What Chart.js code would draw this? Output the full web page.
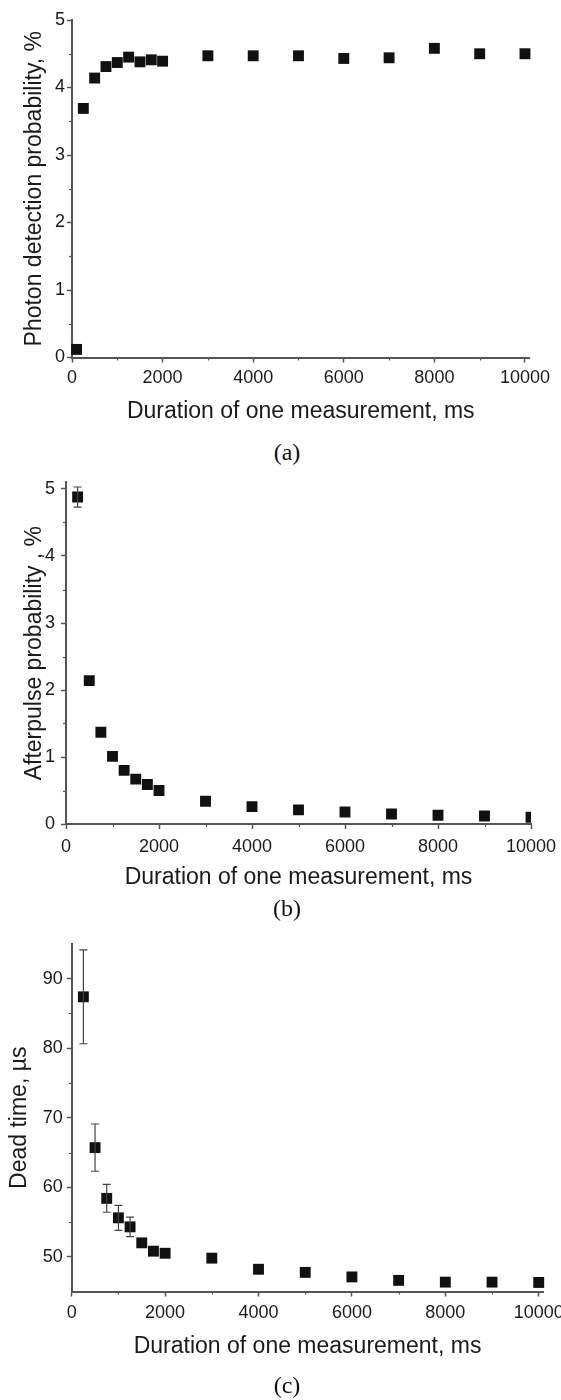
<!DOCTYPE html>
<html><head><meta charset="utf-8">
<script src="https://cdn.jsdelivr.net/npm/chart.js@4.4.1/dist/chart.umd.min.js"></script>
<style>
html,body{margin:0;padding:0;background:#fff;}
body{width:561px;height:1400px;position:relative;overflow:hidden;}
.panel{position:absolute;left:0;width:561px;}
.cap{position:absolute;left:0;width:574px;text-align:center;font-family:"Liberation Serif","Times New Roman",serif;font-size:24px;line-height:24px;color:#111;}
</style></head>
<body>
<div class="panel" style="top:0;height:432px"><canvas id="cA"></canvas></div>
<div class="cap" style="top:440px">(a)</div>
<div class="panel" style="top:460px;height:440px"><canvas id="cB"></canvas></div>
<div class="cap" style="top:896px">(b)</div>
<div class="panel" style="top:930px;height:440px"><canvas id="cC"></canvas></div>
<div class="cap" style="top:1373px">(c)</div>
<script>
// ---- data ----
const durationA = [100, 250, 500, 750, 1000, 1250, 1500, 1750, 2000, 3000, 4000, 5000, 6000, 7000, 8000, 9000, 10000];
const detectionProb = [0.12, 3.69, 4.14, 4.31, 4.37, 4.45, 4.38, 4.41, 4.39, 4.47, 4.47, 4.47, 4.43, 4.44, 4.58, 4.50, 4.50];

const durationBC = [250, 500, 750, 1000, 1250, 1500, 1750, 2000, 3000, 4000, 5000, 6000, 7000, 8000, 9000, 10000];
const afterpulseProb = [4.88, 2.14, 1.37, 1.01, 0.80, 0.67, 0.59, 0.50, 0.34, 0.26, 0.21, 0.18, 0.15, 0.13, 0.12, 0.10];
const afterpulseErr = [0.15, 0, 0, 0, 0, 0, 0, 0, 0, 0, 0, 0, 0, 0, 0, 0];

const deadTime = [87.4, 65.7, 58.4, 55.6, 54.3, 52.0, 50.8, 50.5, 49.8, 48.2, 47.75, 47.1, 46.6, 46.35, 46.35, 46.3];
const deadTimeErr = [6.75, 3.4, 2.0, 1.8, 1.4, 0, 0, 0, 0, 0, 0, 0, 0, 0, 0, 0];

const xMajorTicks = [0, 2000, 4000, 6000, 8000, 10000];
const xMinorTicks = [1000, 3000, 5000, 7000, 9000];
const yTicksAB = [0, 1, 2, 3, 4, 5];
const yMinorAB = [0.5, 1.5, 2.5, 3.5, 4.5];
const yTicksC = [50, 60, 70, 80, 90];
const yMinorC = [55, 65, 75, 85];

const xTitle = 'Duration of one measurement, ms';
const yTitleA = 'Photon detection probability, %';
const yTitleB = 'Afterpulse probability , %';
const yTitleC = 'Dead time, \u00b5s';

// ---- styling ----
Chart.defaults.font.family = '"Liberation Sans", Arial, sans-serif';
const AXIS = '#555';
const TXT = '#1a1a1a';

const errorBarPlugin = {
  id: 'errorBars',
  afterDatasetsDraw(chart) {
    const ds = chart.data.datasets[0];
    if (!ds.errors) return;
    const xs = chart.scales.x, ys = chart.scales.y, ctx = chart.ctx;
    ctx.save();
    ctx.strokeStyle = '#444';
    ctx.lineWidth = 1.2;
    ds.data.forEach((p, i) => {
      const e = ds.errors[i];
      if (!e) return;
      const px = xs.getPixelForValue(p.x);
      const yt = ys.getPixelForValue(p.y + e);
      const yb = ys.getPixelForValue(p.y - e);
      ctx.beginPath();
      ctx.moveTo(px, yt); ctx.lineTo(px, yb);
      ctx.moveTo(px - 4, yt); ctx.lineTo(px + 4, yt);
      ctx.moveTo(px - 4, yb); ctx.lineTo(px + 4, yb);
      ctx.stroke();
    });
    ctx.restore();
  }
};

const minorTickPlugin = {
  id: 'minorTicks',
  afterDraw(chart, args, opts) {
    const xs = chart.scales.x, ys = chart.scales.y, ctx = chart.ctx;
    const ca = chart.chartArea;
    ctx.save();
    ctx.strokeStyle = AXIS;
    ctx.lineWidth = 1.2;
    (opts.x || []).forEach(v => {
      const px = Math.round(xs.getPixelForValue(v)) + 0.5;
      ctx.beginPath(); ctx.moveTo(px, ca.bottom); ctx.lineTo(px, ca.bottom + 3); ctx.stroke();
    });
    (opts.y || []).forEach(v => {
      const py = Math.round(ys.getPixelForValue(v)) + 0.5;
      ctx.beginPath(); ctx.moveTo(ca.left - 3, py); ctx.lineTo(ca.left, py); ctx.stroke();
    });
    ctx.restore();
  }
};

function build(id, c) {
  return new Chart(document.getElementById(id), {
    type: 'scatter',
    data: {
      datasets: [{
        data: c.x.map((v, i) => ({x: v, y: c.y[i]})),
        errors: c.err,
        pointStyle: 'rect',
        pointRadius: 7.7,
        pointHoverRadius: 7.7,
        backgroundColor: '#111',
        borderColor: '#111',
        borderWidth: 0,
        clip: c.clip
      }]
    },
    options: {
      responsive: true,
      maintainAspectRatio: false,
      animation: false,
      events: [],
      layout: {padding: c.padding},
      plugins: {
        legend: {display: false},
        tooltip: {enabled: false},
        minorTicks: {x: xMinorTicks, y: c.yMinor}
      },
      scales: {
        x: {
          type: 'linear',
          min: 0,
          max: c.xMax,
          afterBuildTicks: s => { s.ticks = xMajorTicks.map(v => ({value: v})); },
          afterFit: s => { s.height = c.xH; s.paddingLeft = 0; s.paddingRight = 0; },
          border: {color: AXIS, width: 2},
          grid: {drawOnChartArea: false, tickLength: 5, tickColor: AXIS, tickWidth: 1.5},
          ticks: {font: {size: 18}, color: TXT, padding: c.xPad, maxRotation: 0, autoSkip: false, callback: v => String(v)},
          title: {display: true, text: xTitle, font: {size: 23}, color: TXT, padding: {top: 0, bottom: 0}}
        },
        y: {
          type: 'linear',
          min: c.yMin,
          max: c.yMax,
          afterBuildTicks: s => { s.ticks = c.yTicks.map(v => ({value: v})); },
          afterFit: s => { s.width = c.yW; s.paddingTop = 0; s.paddingBottom = 0; },
          border: {color: AXIS, width: 2},
          grid: {drawOnChartArea: false, tickLength: 5, tickColor: AXIS, tickWidth: 1.5},
          ticks: {font: {size: 18}, color: TXT, padding: c.yPad, autoSkip: false, callback: v => String(v)},
          title: {display: true, text: c.yTitle, font: {size: 23}, color: TXT, padding: {top: c.yTitlePad, bottom: 0}}
        }
      }
    },
    plugins: [errorBarPlugin, minorTickPlugin]
  });
}

build('cA', {
  x: durationA, y: detectionProb, err: null, clip: false,
  xMax: 10100, yMin: 0, yMax: 5, yTicks: yTicksAB, yMinor: yMinorAB,
  yTitle: yTitleA,
  padding: {left: 0, top: 20, right: 31.5, bottom: 6.2},
  xH: 68.3, yW: 72, xPad: 5, yPad: 2, yTitlePad: 21.2
});
build('cB', {
  x: durationBC, y: afterpulseProb, err: afterpulseErr, clip: undefined,
  xMax: 10000, yMin: 0, yMax: 5.1, yTicks: yTicksAB, yMinor: yMinorAB,
  yTitle: yTitleB,
  padding: {left: 0, top: 22.3, right: 30, bottom: 8.2},
  xH: 67.8, yW: 66, xPad: 7, yPad: 6, yTitlePad: 21.2
});
build('cC', {
  x: durationBC, y: deadTime, err: deadTimeErr, clip: false,
  xMax: 10100, yMin: 45, yMax: 95, yTicks: yTicksC, yMinor: yMinorC,
  yTitle: yTitleC,
  padding: {left: 0, top: 14, right: 17.6, bottom: 9.2},
  xH: 69.3, yW: 71.7, xPad: 5.5, yPad: 4, yTitlePad: 6.2
});
</script>
</body></html>
